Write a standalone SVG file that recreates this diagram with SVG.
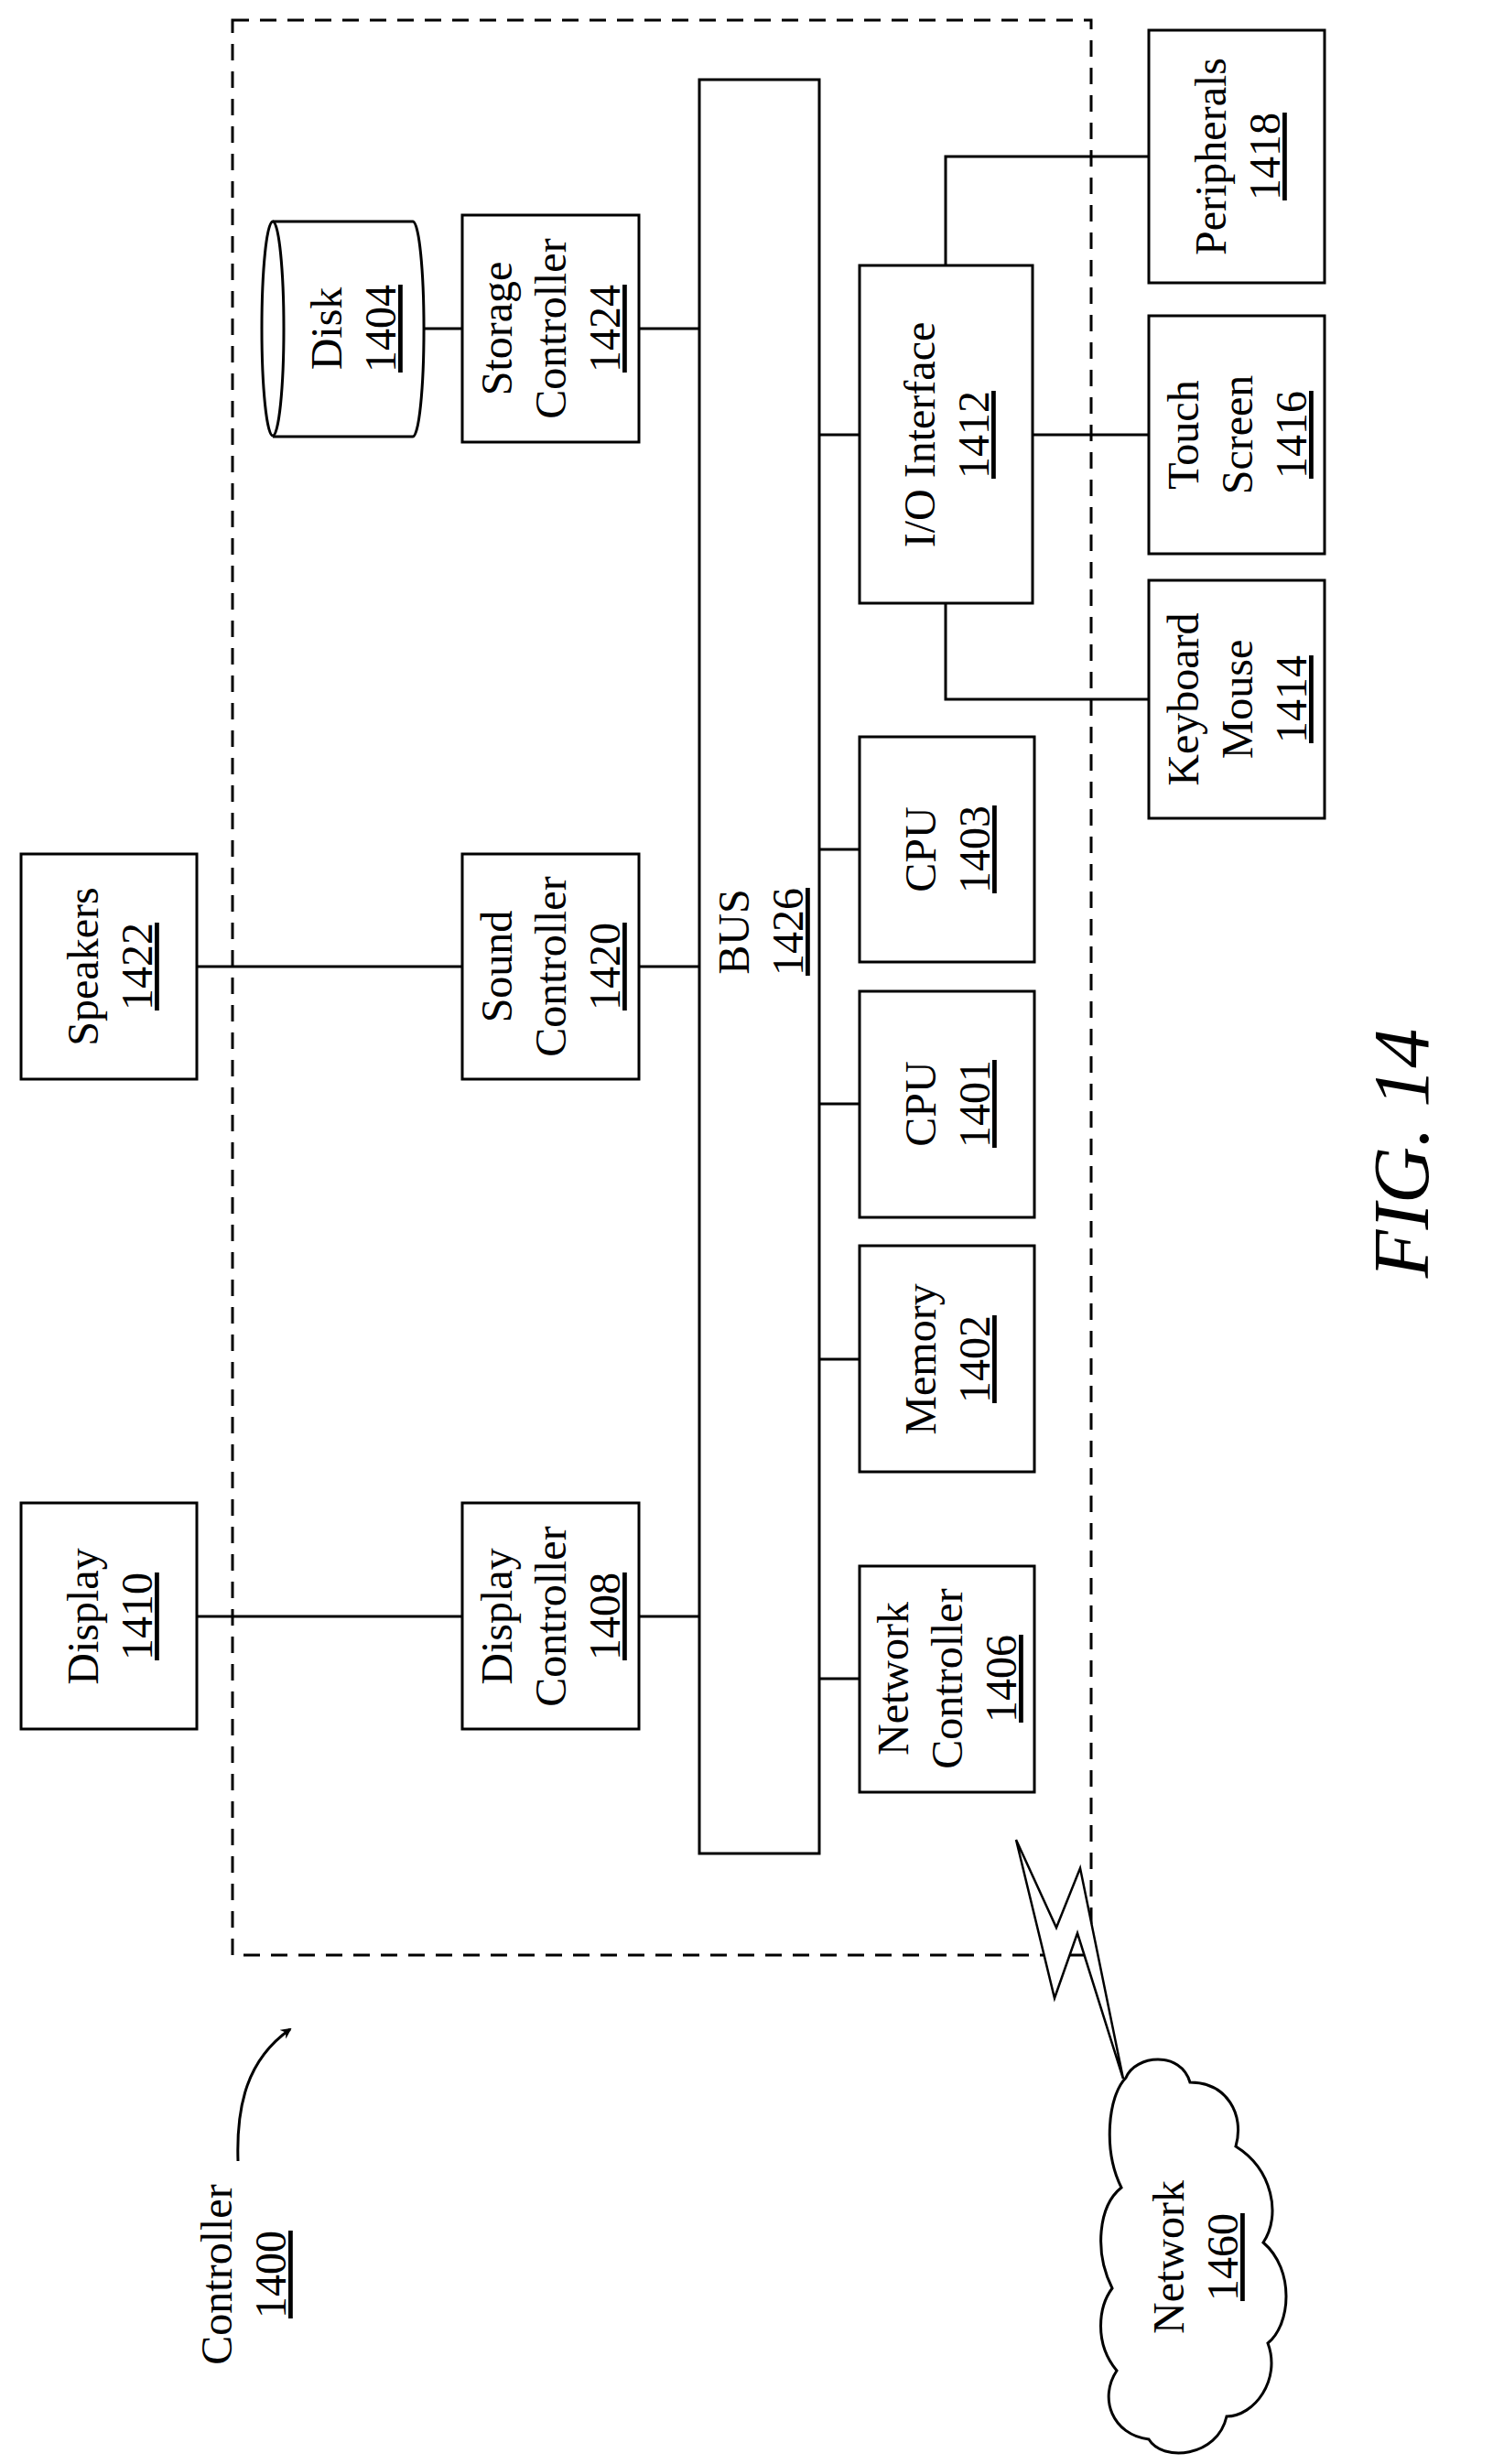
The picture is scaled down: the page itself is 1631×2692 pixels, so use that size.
<svg xmlns="http://www.w3.org/2000/svg" width="1631" height="2692" viewBox="0 0 1631 2692">
<style>
.b{fill:#fff;stroke:#000;stroke-width:3}
.c{fill:none;stroke:#000;stroke-width:3}
text{font-family:"Liberation Serif","Times New Roman",serif;font-size:48px;text-anchor:middle;fill:#000}
.u{text-decoration:underline}
</style>
<defs><marker id="ah" markerWidth="12" markerHeight="12" refX="10" refY="6" orient="auto" markerUnits="userSpaceOnUse"><path d="M0,0 L12,6 L0,12 L4,6 z" fill="#000"/></marker></defs>
<rect x="254" y="22" width="938" height="2114" fill="none" stroke="#000" stroke-width="3" stroke-dasharray="18,12"/>
<g id="connectors" class="c">
<path d="M463,359 H505 M698,359 H764"/>
<path d="M895,475 H939 M1128,475 H1255"/>
<path d="M1033,290 V171 H1255 M1033,659 V764 H1255"/>
<path d="M895,928 H939 M895,1206 H939 M895,1485 H939 M895,1834 H939"/>
<path d="M215,1056 H505 M698,1056 H764"/>
<path d="M215,1766 H505 M698,1766 H764"/>
<path d="M260,2361 C258,2300 270,2250 317,2217" marker-end="url(#ah)"/>
</g>
<g id="bus"><rect class="b" x="764" y="87" width="131" height="1938"/><g transform="rotate(-90 830 1018)"><text x="830" y="1006">BUS</text><text x="830" y="1065" class="u">1426</text></g></g>
<g id="disk"><path class="b" d="M298,242 L451,242 A12,117 0 0 1 451,477 L298,477"/><ellipse class="b" cx="298" cy="359" rx="12" ry="117"/><g transform="rotate(-90 385 359)"><text x="385" y="347">Disk</text><text x="385" y="406" class="u">1404</text></g></g>
<g id="storage"><rect class="b" x="505" y="235" width="193" height="248"/><g transform="rotate(-90 601 359)"><text x="601" y="317">Storage</text><text x="601" y="376">Controller</text><text x="601" y="435" class="u">1424</text></g></g>
<g id="io"><rect class="b" x="939" y="290" width="189" height="369"/><g transform="rotate(-90 1033 475)"><text x="1033" y="463">I/O Interface</text><text x="1033" y="522" class="u">1412</text></g></g>
<g id="periph"><rect class="b" x="1255" y="33" width="192" height="276"/><g transform="rotate(-90 1351 171)"><text x="1351" y="159">Peripherals</text><text x="1351" y="218" class="u">1418</text></g></g>
<g id="touch"><rect class="b" x="1255" y="345" width="192" height="260"/><g transform="rotate(-90 1351 475)"><text x="1351" y="433">Touch</text><text x="1351" y="492">Screen</text><text x="1351" y="551" class="u">1416</text></g></g>
<g id="kbd"><rect class="b" x="1255" y="634" width="192" height="260"/><g transform="rotate(-90 1351 764)"><text x="1351" y="722">Keyboard</text><text x="1351" y="781">Mouse</text><text x="1351" y="840" class="u">1414</text></g></g>
<g id="cpu1403"><rect class="b" x="939" y="805" width="191" height="246"/><g transform="rotate(-90 1034 928)"><text x="1034" y="916">CPU</text><text x="1034" y="975" class="u">1403</text></g></g>
<g id="cpu1401"><rect class="b" x="939" y="1083" width="191" height="247"/><g transform="rotate(-90 1034 1206)"><text x="1034" y="1194">CPU</text><text x="1034" y="1253" class="u">1401</text></g></g>
<g id="mem"><rect class="b" x="939" y="1361" width="191" height="247"/><g transform="rotate(-90 1034 1485)"><text x="1034" y="1473">Memory</text><text x="1034" y="1532" class="u">1402</text></g></g>
<g id="netctl"><rect class="b" x="939" y="1711" width="191" height="247"/><g transform="rotate(-90 1034 1834)"><text x="1034" y="1792">Network</text><text x="1034" y="1851">Controller</text><text x="1034" y="1910" class="u">1406</text></g></g>
<g id="speakers"><rect class="b" x="23" y="933" width="192" height="246"/><g transform="rotate(-90 119 1056)"><text x="119" y="1044">Speakers</text><text x="119" y="1103" class="u">1422</text></g></g>
<g id="sound"><rect class="b" x="505" y="933" width="193" height="246"/><g transform="rotate(-90 601 1056)"><text x="601" y="1014">Sound</text><text x="601" y="1073">Controller</text><text x="601" y="1132" class="u">1420</text></g></g>
<g id="display"><rect class="b" x="23" y="1642" width="192" height="247"/><g transform="rotate(-90 119 1766)"><text x="119" y="1754">Display</text><text x="119" y="1813" class="u">1410</text></g></g>
<g id="dispctl"><rect class="b" x="505" y="1642" width="193" height="247"/><g transform="rotate(-90 601 1766)"><text x="601" y="1724">Display</text><text x="601" y="1783">Controller</text><text x="601" y="1842" class="u">1408</text></g></g>
<g id="bolt"><polygon points="1110,2010 1154,2106 1180,2041 1227,2271 1177,2112 1152,2183" fill="#fff" stroke="#000" stroke-width="2.5"/></g>
<g id="network"><path class="b" d="M1230,2270 C1240,2245 1290,2240 1300,2275 C1340,2275 1360,2310 1350,2345 C1390,2370 1400,2420 1380,2450 C1415,2480 1410,2540 1385,2560 C1400,2600 1370,2640 1340,2640 C1330,2685 1270,2690 1255,2665 C1215,2660 1200,2620 1220,2590 C1195,2560 1200,2520 1215,2500 C1195,2460 1200,2410 1225,2390 C1205,2350 1210,2290 1230,2270 Z"/><g transform="rotate(-90 1305 2466)"><text x="1305" y="2454">Network</text><text x="1305" y="2513" class="u">1460</text></g></g>
<g id="controller"><g transform="rotate(-90 265 2485)"><text x="265" y="2473">Controller</text><text x="265" y="2532" class="u">1400</text></g></g>
<g id="fig"><text x="1590" y="1290" transform="rotate(-90 1560 1290)" style="font-style:italic;font-size:86px">FIG. 14</text></g>
</svg>
